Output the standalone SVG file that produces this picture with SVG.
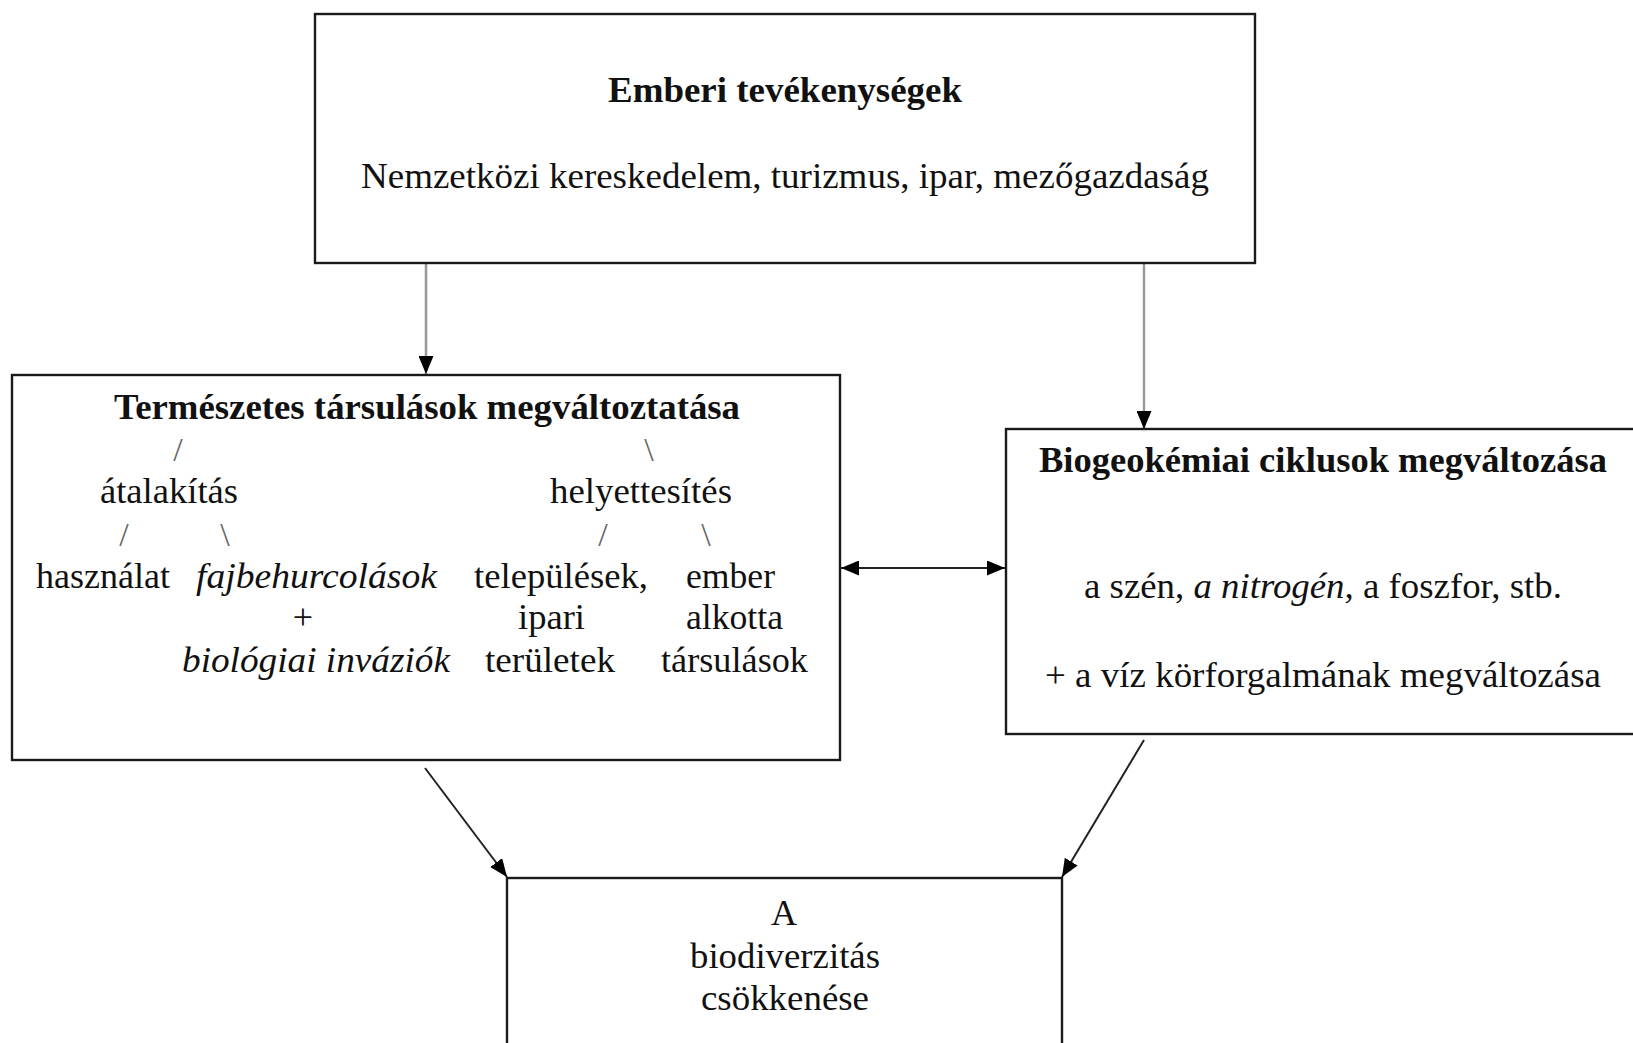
<svg xmlns="http://www.w3.org/2000/svg" width="1633" height="1043" viewBox="0 0 1633 1043">
<style>
.box{fill:#fff;stroke:#1a1a1a;stroke-width:2.4}
text{font-family:"Liberation Serif","Times New Roman",serif;font-size:36px;fill:#111}
.b{font-weight:bold}
.i{font-style:italic}
.sl{fill:#666;font-size:34px}
.c{text-anchor:middle}
.gray{stroke:#999;stroke-width:2.5;fill:none}
.dark{stroke:#222;stroke-width:2;fill:none}
</style>
<defs>
<marker id="ah" markerUnits="userSpaceOnUse" markerWidth="19" markerHeight="15" refX="18" refY="7.5" orient="auto-start-reverse">
<path d="M0,0 L18,7.5 L0,15 z" fill="#000"/>
</marker>
</defs>
<rect width="1633" height="1043" fill="#fff"/>

<g id="connectors">
<line class="gray" x1="426" y1="263" x2="426" y2="374" marker-end="url(#ah)"/>
<line class="gray" x1="1144" y1="263" x2="1144" y2="429" marker-end="url(#ah)"/>
<line class="dark" x1="841" y1="568" x2="1005" y2="568" marker-start="url(#ah)" marker-end="url(#ah)"/>
<line class="dark" x1="425" y1="768" x2="507" y2="877" marker-end="url(#ah)"/>
<line class="dark" x1="1144" y1="740" x2="1062" y2="877" marker-end="url(#ah)"/>
</g>

<g id="node-emberi">
<rect class="box" x="315" y="14" width="940" height="249"/>
<text class="b" x="608" y="102" textLength="354" lengthAdjust="spacingAndGlyphs">Emberi tevékenységek</text>
<text x="361" y="188" textLength="848" lengthAdjust="spacingAndGlyphs">Nemzetközi kereskedelem, turizmus, ipar, mezőgazdaság</text>
</g>

<g id="node-termeszetes">
<rect class="box" x="12" y="375" width="828" height="385"/>
<text class="b" x="114" y="419" textLength="626" lengthAdjust="spacingAndGlyphs">Természetes társulások megváltoztatása</text>
<text class="sl c" x="178" y="461">/</text>
<text class="sl c" x="649" y="461">\</text>
<text x="100" y="503" textLength="138" lengthAdjust="spacingAndGlyphs">átalakítás</text>
<text x="550" y="503" textLength="182" lengthAdjust="spacingAndGlyphs">helyettesítés</text>
<text class="sl c" x="124" y="546">/</text>
<text class="sl c" x="225" y="546">\</text>
<text class="sl c" x="603" y="546">/</text>
<text class="sl c" x="706" y="546">\</text>
<text x="36" y="588" textLength="134" lengthAdjust="spacingAndGlyphs">használat</text>
<text class="i" x="196" y="588" textLength="241" lengthAdjust="spacingAndGlyphs">fajbehurcolások</text>
<text class="c" x="303" y="629">+</text>
<text class="i" x="182" y="672" textLength="268" lengthAdjust="spacingAndGlyphs">biológiai inváziók</text>
<text x="474" y="588" textLength="174" lengthAdjust="spacingAndGlyphs">települések,</text>
<text x="518" y="629" textLength="67" lengthAdjust="spacingAndGlyphs">ipari</text>
<text x="485" y="672" textLength="130" lengthAdjust="spacingAndGlyphs">területek</text>
<text x="686" y="588" textLength="89" lengthAdjust="spacingAndGlyphs">ember</text>
<text x="686" y="629" textLength="97" lengthAdjust="spacingAndGlyphs">alkotta</text>
<text x="661" y="672" textLength="147" lengthAdjust="spacingAndGlyphs">társulások</text>
</g>

<g id="node-biogeokemiai">
<rect class="box" x="1006" y="429" width="640" height="305"/>
<text class="b" x="1039" y="472" textLength="568" lengthAdjust="spacingAndGlyphs">Biogeokémiai ciklusok megváltozása</text>
<text x="1084" y="598" textLength="478" lengthAdjust="spacingAndGlyphs">a szén, <tspan class="i">a nitrogén,</tspan> a foszfor, stb.</text>
<text x="1045" y="687" textLength="556" lengthAdjust="spacingAndGlyphs">+ a víz körforgalmának megváltozása</text>
</g>

<g id="node-biodiverzitas">
<rect class="box" x="507" y="878" width="555" height="200"/>
<text class="c" x="784" y="925">A</text>
<text x="690" y="968" textLength="190" lengthAdjust="spacingAndGlyphs">biodiverzitás</text>
<text x="701" y="1010" textLength="168" lengthAdjust="spacingAndGlyphs">csökkenése</text>
</g>
</svg>
